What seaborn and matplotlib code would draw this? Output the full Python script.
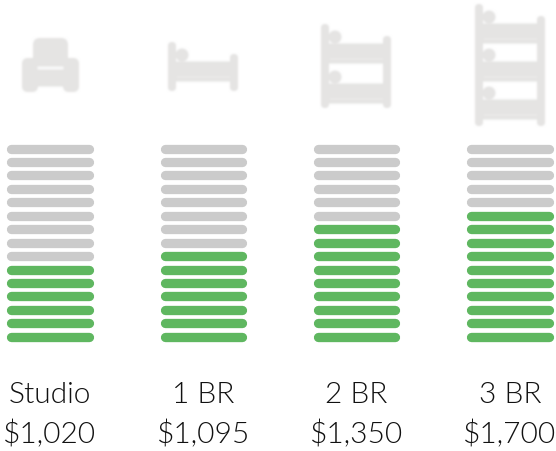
import matplotlib
matplotlib.use('Agg')
import matplotlib.pyplot as plt
import numpy as np
import pandas as pd
import seaborn as sns
from matplotlib.collections import PatchCollection
from matplotlib.patches import Circle, FancyBboxPatch, Rectangle

# data
rooms = ['Studio', '1 BR', '2 BR', '3 BR']
rents = ['$1,020', '$1,095', '$1,350', '$1,700']
filled_rows = [6, 7, 9, 10]
total_rows = 15

GREEN = '#5fb760'
GRAY = '#cbcbcb'
ICON = '#e5e4e3'

# one row per end of each pill
rows = []
for i, room in enumerate(rooms):
    for slot in range(total_rows):
        for end in (-0.252, 0.252):
            rows.append({'x': i + end, 'slot': slot, 'unit': f'{room}-{slot}',
                         'filled': slot < filled_rows[i]})
df = pd.DataFrame(rows)

sns.set_theme(style='white')
plt.rcParams['font.family'] = ['Lato', 'DejaVu Sans']

fig = plt.figure(figsize=(5.56, 4.52), dpi=100)


def soften(image, dpi):
    # small blur, the icons in the original are soft
    kernel = np.array([1, 3, 5, 3, 1]) / 13
    out = np.pad(image, ((2, 2), (2, 2), (0, 0)), mode='edge')
    for axis in (0, 1):
        out = np.apply_along_axis(lambda v: np.convolve(v, kernel, mode='same'), axis, out)
    return out[2:-2, 2:-2], 0, 0


def block(x, y, w, h, color=ICON):
    return Rectangle((x, y), w, h, facecolor=color, edgecolor='none')


def pill(x, y, w, h, color=ICON, r=4):
    return FancyBboxPatch((x + r, y + r), w - 2 * r, h - 2 * r, boxstyle=f'round,pad={r}',
                          facecolor=color, edgecolor='none')


def bunk_bed(x, top, tiers, pitch, bottom):
    parts = []
    parts.append(pill(x, top - 19, 8, bottom - top + 19))
    parts.append(pill(x + 62, top - 7, 8, bottom - top + 7))
    for k in range(tiers):
        y = top + k * pitch
        parts.append(block(x + 5, y, 60, 20))
        parts.append(Circle((x + 14, y - 6), 6.5, facecolor=ICON, edgecolor='none'))
        parts.append(block(x + 8, y + 14.5, 54, 1.2, '#f1f0ef'))
    return parts


# icons, in pixels of the figure
icon_ax = fig.add_axes([0, 0, 1, 1], zorder=0)
icon_ax.set_xlim(0, 556)
icon_ax.set_ylim(452, 0)
icon_ax.axis('off')

shapes = [block(0, 0, 556, 136, 'white')]
# armchair
shapes += [pill(33, 39, 35, 30, r=7),
           pill(22, 59, 16, 34, r=6),
           pill(63, 59, 16, 34, r=6),
           block(36, 68, 29, 19),
           block(37, 67, 26, 3, '#fbfbfb')]
shapes += bunk_bed(168, 62, 1, 0, 92)
shapes += bunk_bed(321, 44, 2, 40, 109)
shapes += bunk_bed(475, 24, 3, 38, 127)

icons = PatchCollection(shapes, match_original=True, zorder=1)
icons.set_agg_filter(soften)
icon_ax.add_collection(icons)

# pills
ax = fig.add_axes([0, 1 - 345 / 452, 1, 345 / 452], zorder=1)
ax.patch.set_alpha(0)
sns.lineplot(data=df, x='x', y='slot', hue='filled', units='unit', estimator=None, sort=False,
             palette={True: GREEN, False: GRAY}, linewidth=6.7, solid_capstyle='round',
             legend=False, ax=ax)
ax.set_xlim(-50 / 153.33, 506 / 153.33)
ax.set_ylim(-(345 - 337.7) / 13.44, 337.7 / 13.44)
ax.set_xticks(range(len(rooms)))
ax.set_xticklabels([f'{r}\n{p}' for r, p in zip(rooms, rents)], fontsize=21.5, fontweight=300,
                   color='#111111', linespacing=1.53)
ax.tick_params(axis='x', length=0, pad=26.5)
ax.set_yticks([])
ax.set_xlabel('')
ax.set_ylabel('')
sns.despine(ax=ax, left=True, bottom=True)

fig.savefig('out.png', dpi=100)
